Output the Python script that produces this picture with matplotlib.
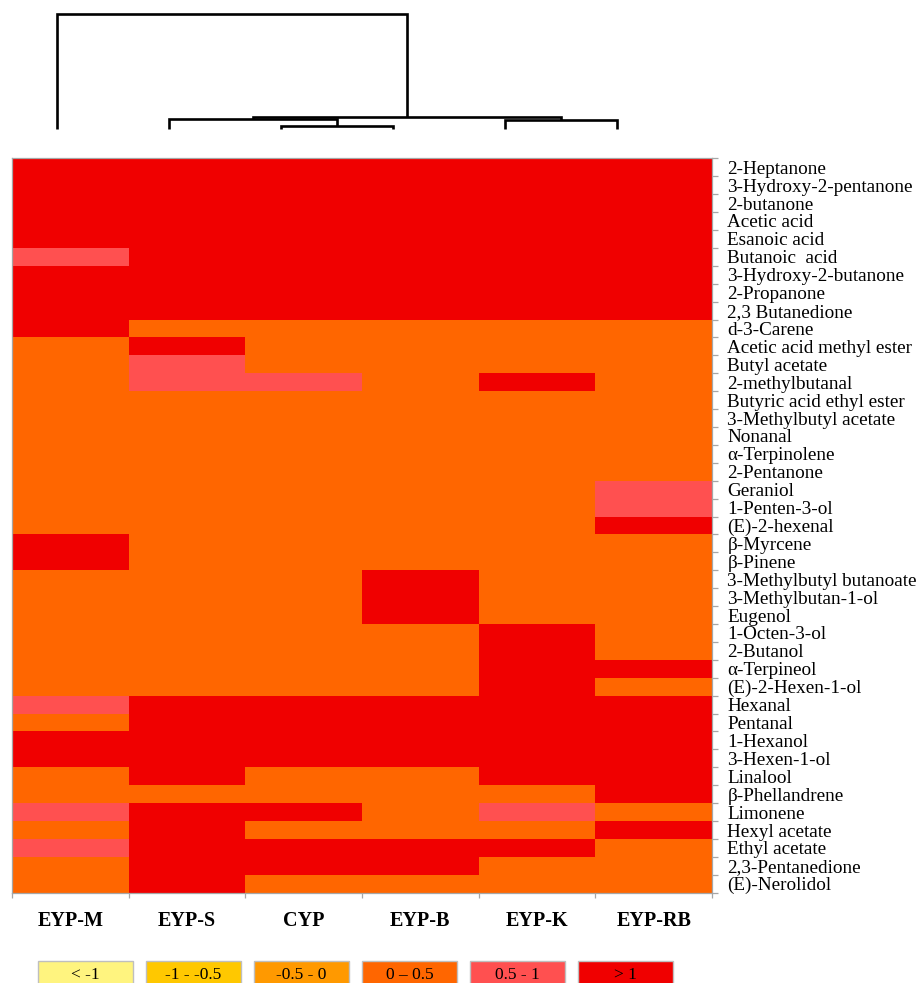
import numpy as np
import matplotlib
matplotlib.use("Agg")
import matplotlib.pyplot as plt
from matplotlib.colors import ListedColormap, BoundaryNorm
from matplotlib.patches import Rectangle

plt.rcParams['font.family'] = ['Liberation Serif', 'DejaVu Serif']

# samples in dendrogram order
samples = ["EYP-M", "EYP-S", "CYP", "EYP-B", "EYP-K", "EYP-RB"]

compounds = [
    "2-Heptanone", "3-Hydroxy-2-pentanone", "2-butanone", "Acetic acid",
    "Esanoic acid", "Butanoic  acid", "3-Hydroxy-2-butanone", "2-Propanone",
    "2,3 Butanedione", "d-3-Carene", "Acetic acid methyl ester", "Butyl acetate",
    "2-methylbutanal", "Butyric acid ethyl ester", "3-Methylbutyl acetate",
    "Nonanal", "α-Terpinolene", "2-Pentanone", "Geraniol", "1-Penten-3-ol",
    "(E)-2-hexenal", "β-Myrcene", "β-Pinene", "3-Methylbutyl butanoate",
    "3-Methylbutan-1-ol", "Eugenol", "1-Octen-3-ol", "2-Butanol",
    "α-Terpineol", "(E)-2-Hexen-1-ol", "Hexanal", "Pentanal", "1-Hexanol",
    "3-Hexen-1-ol", "Linalool", "β-Phellandrene", "Limonene", "Hexyl acetate",
    "Ethyl acetate", "2,3-Pentanedione", "(E)-Nerolidol",
]

# z-score class of each compound per sample
# 0: < -1, 1: -1 - -0.5, 2: -0.5 - 0, 3: 0 - 0.5, 4: 0.5 - 1, 5: > 1
eyp_m = [5, 5, 5, 5, 5, 4, 5, 5, 5, 5, 3, 3, 3, 3, 3, 3, 3, 3, 3, 3, 3,
         5, 5, 3, 3, 3, 3, 3, 3, 3, 4, 3, 5, 5, 3, 3, 4, 3, 4, 3, 3]
eyp_s = [5, 5, 5, 5, 5, 5, 5, 5, 5, 3, 5, 4, 4, 3, 3, 3, 3, 3, 3, 3, 3,
         3, 3, 3, 3, 3, 3, 3, 3, 3, 5, 5, 5, 5, 5, 3, 5, 5, 5, 5, 5]
cyp = [5, 5, 5, 5, 5, 5, 5, 5, 5, 3, 3, 3, 4, 3, 3, 3, 3, 3, 3, 3, 3,
       3, 3, 3, 3, 3, 3, 3, 3, 3, 5, 5, 5, 5, 3, 3, 5, 3, 5, 5, 3]
eyp_b = [5, 5, 5, 5, 5, 5, 5, 5, 5, 3, 3, 3, 3, 3, 3, 3, 3, 3, 3, 3, 3,
         3, 3, 5, 5, 5, 3, 3, 3, 3, 5, 5, 5, 5, 3, 3, 3, 3, 5, 5, 3]
eyp_k = [5, 5, 5, 5, 5, 5, 5, 5, 5, 3, 3, 3, 5, 3, 3, 3, 3, 3, 3, 3, 3,
         3, 3, 3, 3, 3, 5, 5, 5, 5, 5, 5, 5, 5, 5, 3, 4, 3, 5, 3, 3]
eyp_rb = [5, 5, 5, 5, 5, 5, 5, 5, 5, 3, 3, 3, 3, 3, 3, 3, 3, 3, 4, 4, 5,
          3, 3, 3, 3, 3, 3, 3, 5, 3, 5, 5, 5, 5, 5, 5, 3, 5, 3, 3, 3]

# hierarchical clustering of samples: (cluster a, cluster b, height)
# leaves are 0-5, each merge creates the next cluster id
merges = [(2, 3, 3.0), (1, 6, 10.0), (4, 5, 9.7), (7, 8, 12.3), (0, 9, 115.0)]

class_labels = ["< -1", "-1 - -0.5", "-0.5 - 0", "0 \u2013 0.5", "0.5 - 1", "> 1"]
class_colors = ["#FFF47F", "#FFC800", "#FF9900", "#FF6600", "#FF5050", "#F00000"]

W, H = 921, 983
fig = plt.figure(figsize=(W / 100, H / 100), dpi=100)

# ---- heatmap ----
data = np.array([eyp_m, eyp_s, cyp, eyp_b, eyp_k, eyp_rb]).T
cmap = ListedColormap(class_colors)
norm = BoundaryNorm(np.arange(-0.5, 6.5, 1), cmap.N)

hx0, hx1, hy0, hy1 = 12, 712, 158.3, 892.7
ax = fig.add_axes([hx0 / W, 1 - hy1 / H, (hx1 - hx0) / W, (hy1 - hy0) / H])
ax.pcolormesh(np.arange(len(samples) + 1), np.arange(len(compounds) + 1), data,
              cmap=cmap, norm=norm)
ax.set_xlim(0, len(samples))
ax.set_ylim(len(compounds), 0)

for s in ax.spines.values():
    s.set_color('#A6A6A6')
    s.set_linewidth(0.9)

ax.yaxis.tick_right()
ax.set_yticks(np.arange(len(compounds)) + 0.5)
ax.set_yticklabels(compounds, fontsize=13.8)
ax.set_yticks(np.arange(len(compounds) + 1), minor=True)
ax.tick_params(axis='y', which='major', length=0, pad=11)
ax.tick_params(axis='y', which='minor', left=False, right=True, length=4.5,
               width=0.9, color='#A6A6A6')

ax.set_xticks(np.arange(len(samples)) + 0.5)
ax.set_xticklabels(samples, fontsize=14.5, fontweight='bold')
ax.set_xticks(np.arange(len(samples) + 1), minor=True)
ax.tick_params(axis='x', which='major', length=0, pad=13)
ax.tick_params(axis='x', which='minor', bottom=True, length=3.5,
               width=0.9, color='#A6A6A6')

# ---- dendrogram ----
dx0, dx1, dy_top, dy_base = 57, 617, 14, 129.3
dax = fig.add_axes([dx0 / W, 1 - dy_base / H, (dx1 - dx0) / W, (dy_base - dy_top) / H])
dax.set_xlim(0, len(samples) - 1)
dax.set_ylim(0, merges[-1][2])
dax.axis('off')

node_x = {i: float(i) for i in range(len(samples))}
node_h = {i: 0.0 for i in range(len(samples))}
for k, (a, b, h) in enumerate(merges):
    nid = len(samples) + k
    xa, xb = node_x[a], node_x[b]
    dax.plot([xa, xa, xb, xb], [node_h[a], h, h, node_h[b]], color='black',
             lw=1.9, clip_on=False, solid_joinstyle='miter', solid_capstyle='butt')
    node_x[nid] = (xa + xb) / 2
    node_h[nid] = h

# ---- colour key ----
lx0, lx1, ly0 = 31.5, 679.5, 961
lax = fig.add_axes([lx0 / W, 0, (lx1 - lx0) / W, (H - ly0) / H])
lax.set_xlim(0, len(class_labels))
lax.set_ylim(0, 1)
lax.axis('off')
for i, (lab, col) in enumerate(zip(class_labels, class_colors)):
    lax.add_patch(Rectangle((i + 0.06, -0.5), 0.88, 1.5, facecolor=col,
                            edgecolor='#BFBFBF', lw=1, clip_on=False))
    lax.text(i + 0.5, 0.38, lab, ha='center', va='center', fontsize=12.5)

fig.savefig('out.png', dpi=100)
